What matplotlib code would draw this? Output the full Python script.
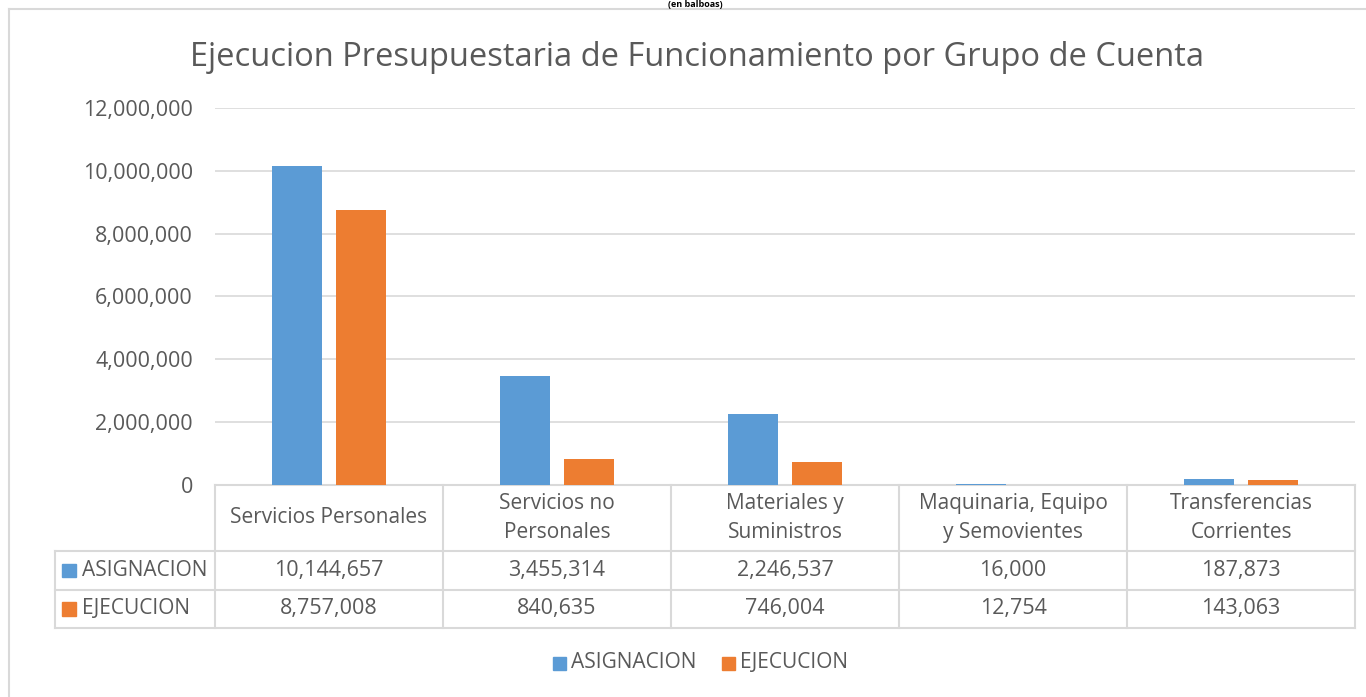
import numpy as np
import matplotlib.pyplot as plt
from matplotlib.lines import Line2D
from matplotlib.patches import Rectangle

plt.rcParams['font.family'] = ['Open Sans', 'DejaVu Sans']

categorias = ["Servicios Personales", "Servicios no\nPersonales", "Materiales y\nSuministros",
              "Maquinaria, Equipo\ny Semovientes", "Transferencias\nCorrientes"]
series = ["ASIGNACION", "EJECUCION"]
asignacion = [10144657, 3455314, 2246537, 16000, 187873]
ejecucion = [8757008, 840635, 746004, 12754, 143063]
colores = ["#5b9bd5", "#ed7d31"]
titulo = "Ejecucion Presupuestaria de Funcionamiento por Grupo de Cuenta"
yticks = np.arange(0, 12000001, 2000000)

gris = "#d9d9d9"
texto = "#595959"

fig = plt.figure(figsize=(13.66, 6.97), dpi=100)
ax = fig.add_axes([0.1574, 0.3042, 0.8346, 0.5409])

x = np.arange(len(categorias))
w = 0.22
ax.bar(x - 0.14, asignacion, w, color=colores[0], zorder=3)
ax.bar(x + 0.14, ejecucion, w, color=colores[1], zorder=3)
ax.set_xlim(-0.5, len(categorias) - 0.5)
ax.set_ylim(0, 12000000)
ax.set_yticks(yticks)
ax.set_yticklabels([f"{v:,}" for v in yticks], fontsize=15.5, color=texto)
ax.tick_params(axis='y', length=0, pad=16)
ax.set_xticks([])
ax.grid(axis='y', color=gris, lw=1.2, zorder=0)
for s in ax.spines.values():
    s.set_visible(False)

# tabla de datos debajo del grafico
left = -0.1404
rows = [0, -0.175, -0.2785, -0.379]
trans = ax.transAxes
kw = dict(transform=trans, clip_on=False, color=gris, lw=1.5)
ax.add_line(Line2D([0, 1], [rows[0], rows[0]], **kw))
for r in rows[1:]:
    ax.add_line(Line2D([left, 1], [r, r], **kw))
ax.add_line(Line2D([left, left], [rows[1], rows[3]], **kw))
for i in range(len(categorias) + 1):
    xi = i / len(categorias)
    ax.add_line(Line2D([xi, xi], [rows[0], rows[3]], **kw))
for i, c in enumerate(categorias):
    xc = (i + 0.5) / len(categorias)
    ax.text(xc, (rows[0] + rows[1]) / 2, c, transform=trans, ha='center', va='center',
            fontsize=15, color=texto, linespacing=1.45)
    for j, vals in enumerate([asignacion, ejecucion]):
        ax.text(xc, (rows[j + 1] + rows[j + 2]) / 2, f"{vals[i]:,}", transform=trans,
                ha='center', va='center', fontsize=15.5, color=texto)
for j, s in enumerate(series):
    yc = (rows[j + 1] + rows[j + 2]) / 2
    ax.add_patch(Rectangle((left + 0.0065, yc - 0.018), 0.012, 0.036, transform=trans,
                           clip_on=False, color=colores[j]))
    ax.text(left + 0.024, yc, s, transform=trans, ha='left', va='center',
            fontsize=15, color=texto)

# titulo y leyenda
fig.text(0.51, 0.918, titulo, ha='center', va='center', fontsize=23.5, color=texto)
fig.text(0.509, 1 - 4.5 / 697, "(en balboas)", ha='center', va='center', fontsize=6.5,
         color='black', fontweight='bold')
lx = [553, 722]
for j, s in enumerate(series):
    fig.patches.append(Rectangle((lx[j] / 1366, 1 - 670 / 697), 13 / 1366, 13 / 697,
                                 transform=fig.transFigure, color=colores[j]))
    fig.text((lx[j] + 18) / 1366, 1 - 663 / 697, s, ha='left', va='center',
             fontsize=15, color=texto)

# borde del area del grafico
fig.add_artist(Line2D([9 / 1366, 9 / 1366], [0, 1 - 9 / 697], transform=fig.transFigure,
                      color=gris, lw=1.5))
fig.add_artist(Line2D([9 / 1366, 1], [1 - 9 / 697, 1 - 9 / 697], transform=fig.transFigure,
                      color=gris, lw=1.5))

fig.savefig("out.png", dpi=100)
